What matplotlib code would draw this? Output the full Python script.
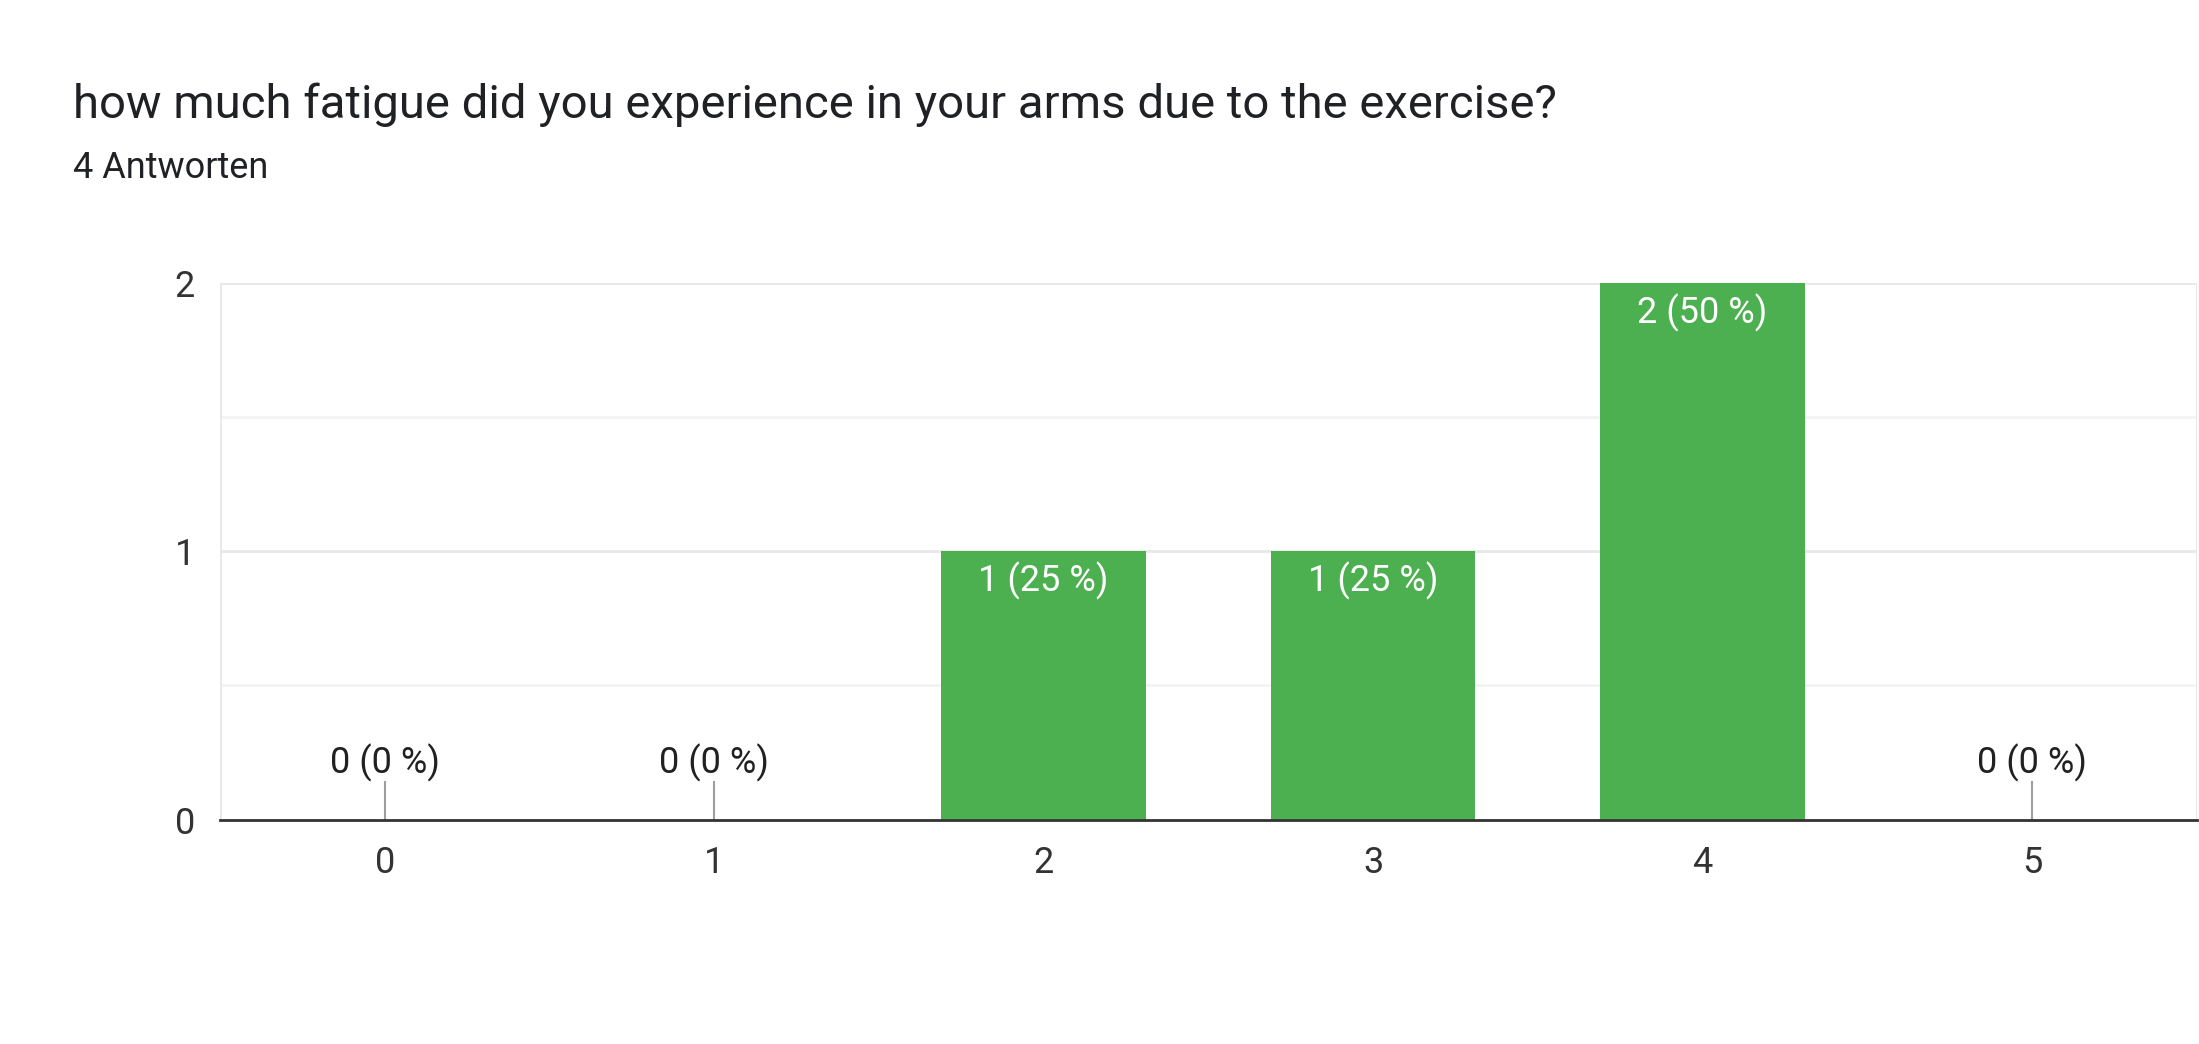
import matplotlib
matplotlib.use("Agg")
import matplotlib.pyplot as plt

categories = ["0", "1", "2", "3", "4", "5"]
counts = [0, 0, 1, 1, 2, 0]
percents = [0, 0, 25, 25, 50, 0]
title = "how much fatigue did you experience in your arms due to the exercise?"
subtitle = "4 Antworten"

plt.rcParams['font.family'] = ['Roboto', 'DejaVu Sans']
fig = plt.figure(figsize=(21.99, 10.44), dpi=100)
ax = fig.add_axes([0.100, 0.215, 0.899, 0.514])
x = list(range(len(categories)))
green = "#4caf50"
ax.bar(x, counts, width=0.62, color=green, zorder=3)
for xi, c, p in zip(x, counts, percents):
    lab = f"{c} ({p} %)"
    if c > 0:
        ax.text(xi, c - 0.04, lab, ha="center", va="top", color="white", fontsize=26, zorder=4)
    else:
        ax.plot([xi, xi], [0, 0.14], color="#9e9e9e", lw=1.5, zorder=3)
        ax.text(xi, 0.14, lab, ha="center", va="bottom", color="#212121", fontsize=26, zorder=4)
ax.set_xlim(-0.5, 5.5)
ax.set_ylim(0, 2)
ax.set_yticks([0, 1, 2])
ax.set_xticks(x)
ax.set_xticklabels(categories)
for y, c in [(0.5, "#f3f3f3"), (1.5, "#f3f3f3"), (1, "#e8e8e8"), (2, "#e8e8e8")]:
    ax.axhline(y, color=c, lw=2, zorder=1)
for s in ["top", "right", "left"]:
    ax.spines[s].set_visible(False)
ax.spines["bottom"].set_color("#333333")
ax.spines["bottom"].set_linewidth(2)
ax.spines["bottom"].set_zorder(5)
ax.tick_params(length=0, labelsize=26, colors="#333333", pad=18)
ax.axvline(-0.5, color="#e8e8e8", lw=2, zorder=1)
ax.axvline(5.5, color="#e8e8e8", lw=2, zorder=1)
fig.text(52/1568, 1 - 75/745, title, fontsize=34, color="#202124", va="center")
fig.text(52/1568, 1 - 120/745, subtitle, fontsize=26, color="#202124", va="center")
fig.savefig("out.png", dpi=100, facecolor="white")
